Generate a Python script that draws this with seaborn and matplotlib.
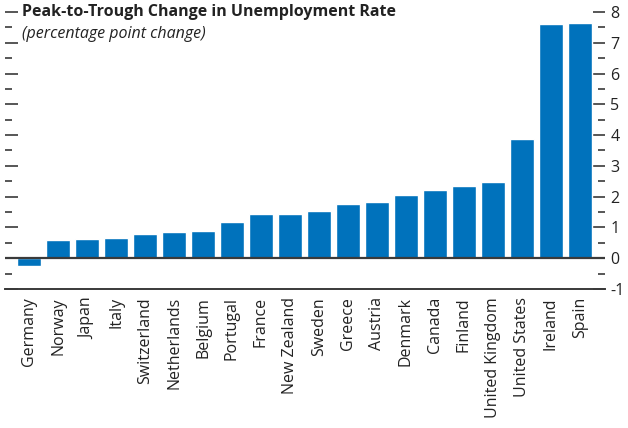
import pandas as pd
import matplotlib
matplotlib.use('Agg')
import matplotlib.pyplot as plt
from matplotlib.ticker import MultipleLocator
import seaborn as sns

# ── Data ──────────────────────────────────────────────────────
countries = [
    'Germany', 'Norway', 'Japan', 'Italy', 'Switzerland', 'Netherlands',
    'Belgium', 'Portugal', 'France', 'New Zealand', 'Sweden', 'Greece',
    'Austria', 'Denmark', 'Canada', 'Finland', 'United Kingdom',
    'United States', 'Ireland', 'Spain',
]
change = [
    -0.25, 0.59, 0.62, 0.65, 0.78, 0.85, 0.87, 1.16, 1.43, 1.43, 1.52,
    1.75, 1.81, 2.04, 2.20, 2.33, 2.46, 3.87, 7.62, 7.65,
]

BLUE = '#0072BC'
DARK = '#3A3A3A'

df = pd.DataFrame({'country': countries, 'change': change})

sns.set_style('white')
plt.rcParams['font.family'] = ['Open Sans', 'DejaVu Sans']
plt.rcParams['axes.unicode_minus'] = False

fig = plt.figure(figsize=(6.28, 4.28), dpi=100)
ax = fig.add_axes([0.008, 0.325, 0.955, 0.647])

sns.barplot(data=df, x='country', y='change', color=BLUE, saturation=1,
            width=0.83, ax=ax)

ax.axhline(0, color=DARK, lw=1.6, zorder=3)
ax.set_ylim(-1, 8)
ax.set_xlim(-0.83, len(countries) - 1 + 0.86)

ax.yaxis.set_major_locator(MultipleLocator(1))
ax.yaxis.set_minor_locator(MultipleLocator(0.5))
ax.tick_params(axis='y', which='both', direction='in', left=True, right=True,
               labelleft=False, labelright=True, colors=DARK, labelcolor='#222222',
               labelsize=11.5, pad=4)
ax.tick_params(axis='y', which='major', length=9, width=1.2)
ax.tick_params(axis='y', which='minor', length=5, width=1.2)
ax.tick_params(axis='x', direction='in', length=9, width=1.2, colors=DARK,
               labelcolor='#222222', labelsize=11.5, pad=6)
ax.set_xticks(range(len(countries)))
ax.set_xticklabels(countries, rotation=90)

ax.set_xlabel('')
ax.set_ylabel('')
for s in ['top', 'right', 'left']:
    ax.spines[s].set_visible(False)
ax.spines['bottom'].set_color(DARK)
ax.spines['bottom'].set_linewidth(1.4)

fig.text(0.035, 0.99, 'Peak-to-Trough Change in Unemployment Rate',
         fontsize=11.5, fontweight='bold', color='#222222', va='top', ha='left')
fig.text(0.035, 0.94, '(percentage point change)',
         fontsize=11.5, fontstyle='italic', color='#222222', va='top', ha='left')

fig.savefig('out.png', dpi=100)
